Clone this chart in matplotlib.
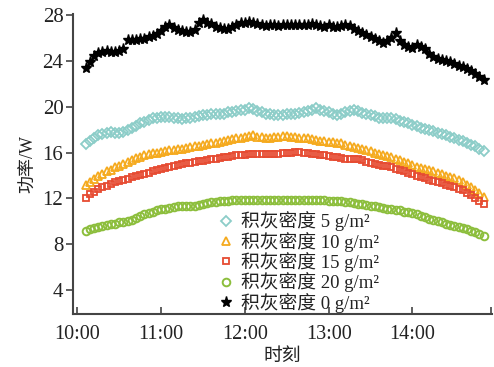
import numpy as np
import matplotlib
matplotlib.use("Agg")
import matplotlib.pyplot as plt

plt.rcParams['font.family'] = ['Liberation Serif', 'Noto Sans CJK SC']

# sampling every 3 minutes, counted from 10:00
START_MIN = 6
STEP_MIN = 3

P_5 = [16.75, 17.05, 17.3, 17.5, 17.65, 17.75, 17.8, 17.7, 17.75, 17.8,
       18.0, 18.15, 18.35, 18.55, 18.7, 18.85, 19.0, 19.05, 19.1, 19.1,
       19.1, 19.05, 19.0, 18.95, 19.0, 19.05, 19.1, 19.2, 19.3, 19.3,
       19.35, 19.35, 19.4, 19.4, 19.5, 19.55, 19.6, 19.7, 19.75, 19.85,
       19.8, 19.65, 19.5, 19.4, 19.35, 19.3, 19.3, 19.3, 19.35, 19.4,
       19.4, 19.45, 19.55, 19.65, 19.75, 19.85, 19.75, 19.6, 19.5, 19.4,
       19.3, 19.4, 19.55, 19.65, 19.7, 19.6, 19.45, 19.35, 19.25, 19.15,
       19.05, 19.0, 19.0, 19.0, 18.95, 18.8, 18.65, 18.55, 18.4, 18.3,
       18.15, 18.05, 17.95, 17.85, 17.75, 17.6, 17.5, 17.4, 17.25, 17.1,
       17.0, 16.85, 16.7, 16.55, 16.35, 16.1]

P_10 = [13.15, 13.45, 13.7, 13.95, 14.15, 14.35, 14.5, 14.7, 14.85, 15.0,
        15.15, 15.35, 15.5, 15.6, 15.75, 15.85, 15.95, 16.0, 16.05, 16.15,
        16.2, 16.25, 16.3, 16.35, 16.4, 16.5, 16.55, 16.6, 16.7, 16.75,
        16.8, 16.85, 16.95, 17.05, 17.1, 17.2, 17.25, 17.3, 17.4, 17.45,
        17.5, 17.4, 17.35, 17.3, 17.3, 17.35, 17.4, 17.45, 17.45, 17.4,
        17.35, 17.3, 17.25, 17.25, 17.2, 17.1, 17.05, 17.0, 16.95, 16.9,
        16.85, 16.8, 16.7, 16.6, 16.5, 16.4, 16.3, 16.2, 16.1, 16.0,
        15.9, 15.8, 15.7, 15.6, 15.45, 15.35, 15.2, 15.05, 14.9, 14.75,
        14.65, 14.55, 14.45, 14.35, 14.25, 14.15, 14.0, 13.9, 13.75, 13.6,
        13.4, 13.2, 13.0, 12.75, 12.5, 12.15]

P_15 = [12.05, 12.35, 12.6, 12.8, 13.0, 13.1, 13.25, 13.4, 13.5, 13.6,
        13.7, 13.85, 13.95, 14.05, 14.15, 14.25, 14.35, 14.45, 14.55, 14.65,
        14.75, 14.85, 14.9, 15.0, 15.05, 15.1, 15.2, 15.25, 15.3, 15.35,
        15.4, 15.45, 15.55, 15.6, 15.65, 15.7, 15.75, 15.8, 15.8, 15.85,
        15.85, 15.85, 15.85, 15.85, 15.85, 15.9, 15.9, 15.95, 15.95, 16.0,
        16.05, 16.05, 16.0, 15.95, 15.9, 15.85, 15.8, 15.75, 15.7, 15.65,
        15.6, 15.5, 15.45, 15.4, 15.4, 15.4, 15.35, 15.2, 15.1, 15.0,
        14.95, 14.85, 14.8, 14.7, 14.55, 14.45, 14.35, 14.25, 14.15, 14.0,
        13.9, 13.8, 13.65, 13.55, 13.45, 13.35, 13.2, 13.1, 13.0, 12.85,
        12.7, 12.5, 12.3, 12.05, 11.8, 11.55]

P_20 = [9.15, 9.3, 9.4, 9.5, 9.6, 9.7, 9.75, 9.8, 9.9, 9.95,
        10.05, 10.15, 10.3, 10.45, 10.6, 10.7, 10.85, 10.95, 11.05, 11.1,
        11.2, 11.25, 11.3, 11.3, 11.3, 11.35, 11.35, 11.4, 11.5, 11.6,
        11.65, 11.7, 11.75, 11.8, 11.8, 11.85, 11.85, 11.9, 11.9, 11.9,
        11.9, 11.9, 11.9, 11.9, 11.85, 11.85, 11.9, 11.9, 11.9, 11.9,
        11.9, 11.9, 11.9, 11.9, 11.85, 11.85, 11.85, 11.85, 11.8, 11.8,
        11.75, 11.75, 11.7, 11.7, 11.6, 11.55, 11.5, 11.4, 11.35, 11.3,
        11.25, 11.2, 11.1, 11.05, 11.0, 10.95, 10.85, 10.8, 10.7, 10.6,
        10.45, 10.35, 10.2, 10.1, 10.0, 9.9, 9.8, 9.7, 9.6, 9.5,
        9.4, 9.3, 9.2, 9.05, 8.9, 8.7]

P_0 = [23.4, 23.9, 24.4, 24.65, 24.8, 24.85, 24.8, 24.75, 24.9, 25.0,
       25.8, 25.85, 25.8, 25.9, 25.95, 26.05, 26.15, 26.35, 26.6, 27.0,
       27.15, 26.9, 26.7, 26.6, 26.55, 26.5, 26.7, 27.3, 27.55, 27.35,
       27.2, 27.0, 26.9, 26.75, 26.8, 27.0, 27.1, 27.3, 27.35, 27.4,
       27.35, 27.2, 27.1, 27.05, 27.1, 27.1, 27.05, 27.1, 27.1, 27.15,
       27.1, 27.1, 27.15, 27.1, 27.2, 27.1, 27.05, 27.0, 27.1, 27.0,
       26.95, 27.05, 27.1, 27.05, 26.75, 26.6, 26.4, 26.25, 26.1, 25.95,
       25.75, 25.6, 25.7, 26.0, 26.4, 25.7, 25.4, 25.2, 25.1, 25.4,
       25.2, 25.0, 24.6, 24.35, 24.15, 24.05, 23.95, 23.9, 23.75, 23.6,
       23.45, 23.3, 23.15, 22.85, 22.6, 22.3]

LABELS = ["积灰密度 5 g/m²", "积灰密度 10 g/m²", "积灰密度 15 g/m²",
          "积灰密度 20 g/m²", "积灰密度 0 g/m²"]
TICK_MIN = [0, 60, 120, 180, 240, 296]
TICK_TXT = ["10:00", "11:00", "12:00", "13:00", "14:00", ""]

t = START_MIN + STEP_MIN * np.arange(len(P_0))

fig = plt.figure(figsize=(4.94, 3.67), dpi=100)
ax = fig.add_axes([0.148, 0.144, 0.848, 0.818])

ax.plot(t, P_5, ls='none', marker='D', ms=5.2, mfc='none', mec='#8ccdc8', mew=1.3, label=LABELS[0])
ax.plot(t, P_10, ls='none', marker='^', ms=6, mfc='none', mec='#f5aa1e', mew=1.3, label=LABELS[1])
ax.plot(t, P_15, ls='none', marker='s', ms=4.8, mfc='none', mec='#e64b32', mew=1.3, label=LABELS[2])
ax.plot(t, P_20, ls='none', marker='o', ms=5.5, mfc='none', mec='#8cbe3c', mew=1.4, label=LABELS[3])
ax.plot(t, P_0, ls='none', marker='*', ms=8, color='black', label=LABELS[4])

ax.set_xlim(-3, 297)
ax.set_ylim(1.9, 28.1)
ax.set_yticks([4, 8, 12, 16, 20, 24, 28])
ax.set_xticks(TICK_MIN)
ax.set_xticklabels(TICK_TXT)

for s in ['top', 'right']:
    ax.spines[s].set_visible(False)
for s in ['left', 'bottom']:
    ax.spines[s].set_color('#444444')
    ax.spines[s].set_linewidth(1.5)

ax.tick_params(axis='y', direction='out', length=5, width=1.2, color='#444444',
               labelsize=15, labelcolor='#222222', pad=2)
ax.tick_params(axis='x', direction='in', length=5, width=1.2, color='#444444',
               labelsize=14.5, labelcolor='#222222', pad=8)

ax.set_ylabel("功率/W", fontsize=13, color='#222222', labelpad=4)
ax.set_xlabel("时刻", fontsize=13.5, color='#222222', labelpad=3)

ax.legend(loc='lower left', bbox_to_anchor=(0.33, -0.02), frameon=False,
          fontsize=13.5, handlelength=0.8, handletextpad=0.4, labelspacing=0.02,
          borderaxespad=0.0, labelcolor='#222222')

fig.savefig("out.png", dpi=100)
